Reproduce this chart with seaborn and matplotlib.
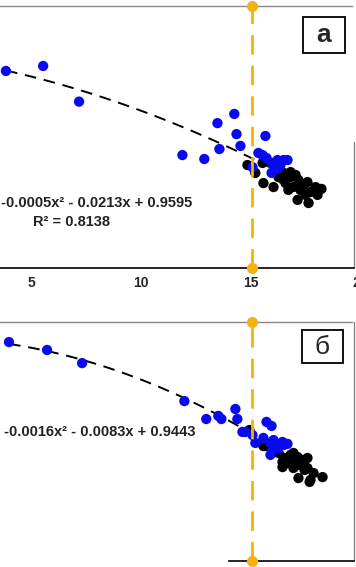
import numpy as np
import pandas as pd
import matplotlib
matplotlib.use('Agg')
import matplotlib.pyplot as plt
from matplotlib.patches import Rectangle
import seaborn as sns

# panel a (top): blue and black groups
a_blue_x = [3.83, 5.53, 7.17, 11.89, 12.89, 13.49, 13.58, 14.26, 14.36, 14.54, 15.68, 15.36,
            15.55, 15.09, 15.96, 16.23, 16.51, 16.69, 15.96, 16.23, 15.73, 16.37]
a_blue_y = [0.752, 0.771, 0.635, 0.431, 0.416, 0.553, 0.454, 0.588, 0.511, 0.466, 0.504, 0.439,
            0.431, 0.385, 0.401, 0.412, 0.412, 0.412, 0.363, 0.378, 0.420, 0.393]
a_black_x = [14.86, 15.22, 15.59, 16.05, 16.46, 16.83, 17.19, 17.60, 17.97, 18.24, 18.06, 17.15,
             17.65, 16.73, 16.96, 17.42, 15.55, 16.83, 16.51, 16.28, 17.28, 17.74, 16.60, 17.06, 17.51]
a_black_y = [0.393, 0.363, 0.324, 0.309, 0.340, 0.347, 0.336, 0.328, 0.309, 0.302, 0.279, 0.260,
             0.248, 0.298, 0.309, 0.317, 0.401, 0.366, 0.363, 0.347, 0.298, 0.290, 0.324, 0.355, 0.279]

# panel б (bottom)
b_blue_x = [3.97, 5.71, 7.31, 11.98, 12.98, 13.53, 13.67, 14.31, 14.40, 14.63, 15.73, 15.96,
            14.77, 15.09, 15.22, 15.59, 15.91, 16.05, 16.46, 16.69, 16.00, 16.28, 15.91, 16.51]
b_blue_y = [0.916, 0.883, 0.828, 0.669, 0.594, 0.607, 0.594, 0.636, 0.594, 0.540, 0.582, 0.565,
            0.540, 0.527, 0.494, 0.515, 0.494, 0.506, 0.498, 0.490, 0.464, 0.473, 0.444, 0.485]
b_black_x = [14.95, 15.59, 15.68, 16.28, 16.51, 16.83, 17.15, 17.60, 16.46, 16.83, 17.19, 17.60,
             17.88, 18.29, 17.19, 17.70, 16.96, 17.37, 16.69, 16.96, 17.28, 17.47, 17.74, 16.46, 16.69]
b_black_y = [0.548, 0.481, 0.481, 0.452, 0.431, 0.444, 0.435, 0.431, 0.393, 0.410, 0.402, 0.389,
             0.368, 0.351, 0.347, 0.331, 0.389, 0.423, 0.423, 0.452, 0.423, 0.381, 0.339, 0.414, 0.410]

threshold_x = 15.05
x_ticks = [5, 10, 15, 20]
eq_a = 'y = -0.0005x² - 0.0213x + 0.9595'
r2_a = 'R² = 0.8138'
eq_b = 'y = -0.0016x² - 0.0083x + 0.9443'
labels = ['а', 'б']

sns.set_style('white')
plt.rcParams['font.family'] = ['Liberation Sans', 'DejaVu Sans']

W, H = 356, 567
fig = plt.figure(figsize=(W / 100, H / 100), dpi=100)

def frac_box(top_px, bottom_px):
    return [0, (H - bottom_px) / H, 360 / W, (bottom_px - top_px) / H]

ax_a = fig.add_axes(frac_box(6, 268))
ax_b = fig.add_axes(frac_box(322, 561))

palette = {'black': '#000000', 'blue': '#0a0af0'}
x_right = 19.73

def draw_panel(ax, bx, by, kx, ky, bottom_from):
    df = pd.DataFrame({
        'x': kx + bx,
        'y': ky + by,
        'group': ['black'] * len(kx) + ['blue'] * len(bx),
    })
    sns.regplot(data=df, x='x', y='y', order=2, ci=None, scatter=False, ax=ax,
                line_kws=dict(color='black', lw=1.4, dashes=(6, 4), zorder=1))
    sns.scatterplot(data=df, x='x', y='y', hue='group', palette=palette, s=55,
                    linewidth=0, legend=False, ax=ax, zorder=3)
    ax.plot([threshold_x, threshold_x], [0, 1], color='#f5b400', lw=2, dashes=(7, 4),
            marker='o', markersize=7, markerfacecolor='#f7b10f', markeredgecolor='#f7b10f',
            clip_on=False, zorder=4)
    ax.set_xlim(3.56, 20)
    ax.set_ylim(0, 1)
    ax.set_xlabel('')
    ax.set_ylabel('')
    ax.set_yticks([])
    ax.set_xticks(x_ticks)
    ax.tick_params(axis='x', length=0, pad=6)
    for t in ax.get_xticklabels():
        t.set_fontweight('bold')
        t.set_fontsize(10)
    ax.spines['left'].set_visible(False)
    ax.spines['right'].set_visible(False)
    ax.spines['top'].set_color('#888888')
    ax.spines['top'].set_linewidth(1)
    ax.spines['top'].set_bounds(3.56, x_right - 0.1)
    ax.spines['bottom'].set_color('black')
    ax.spines['bottom'].set_linewidth(1.2)
    ax.spines['bottom'].set_bounds(bottom_from, x_right)
    return df

draw_panel(ax_a, a_blue_x, a_blue_y, a_black_x, a_black_y, 3.56)
draw_panel(ax_b, b_blue_x, b_blue_y, b_black_x, b_black_y, 14.0)
ax_b.set_xticklabels([])

ax_a.axvline(x_right, ymin=0, ymax=0.48, color='#888888', lw=1)
ax_b.axvline(x_right, ymin=0, ymax=1, color='#888888', lw=1)

# equations
ax_a.text(3.56 + 192 / 21.86, (268 - 203) / 262, eq_a, ha='right', va='center',
          fontsize=10.5, fontweight='bold', color='#222222')
ax_a.text(3.56 + 110 / 21.86, (268 - 222) / 262, r2_a, ha='right', va='center',
          fontsize=10.5, fontweight='bold', color='#222222')
ax_b.text(3.56 + 195 / 21.86, (561 - 432) / 239, eq_b, ha='right', va='center',
          fontsize=10.5, fontweight='bold', color='#222222')

# panel labels in boxes (pixel boxes from the reference)
for (x0, y0, x1, y1), lab, bold in [((303, 17, 345, 53), labels[0], True),
                                    ((302, 330, 343, 363), labels[1], False)]:
    fig.patches.append(Rectangle((x0 / W, 1 - y1 / H), (x1 - x0) / W, (y1 - y0) / H,
                                 transform=fig.transFigure, fc='white', ec='black', lw=1.3))
    fig.text((x0 + x1) / 2 / W, 1 - (y0 + y1) / 2 / H, lab, ha='center', va='center',
             fontsize=19, fontweight='bold' if bold else 'normal')

fig.savefig('out.png', dpi=100)
